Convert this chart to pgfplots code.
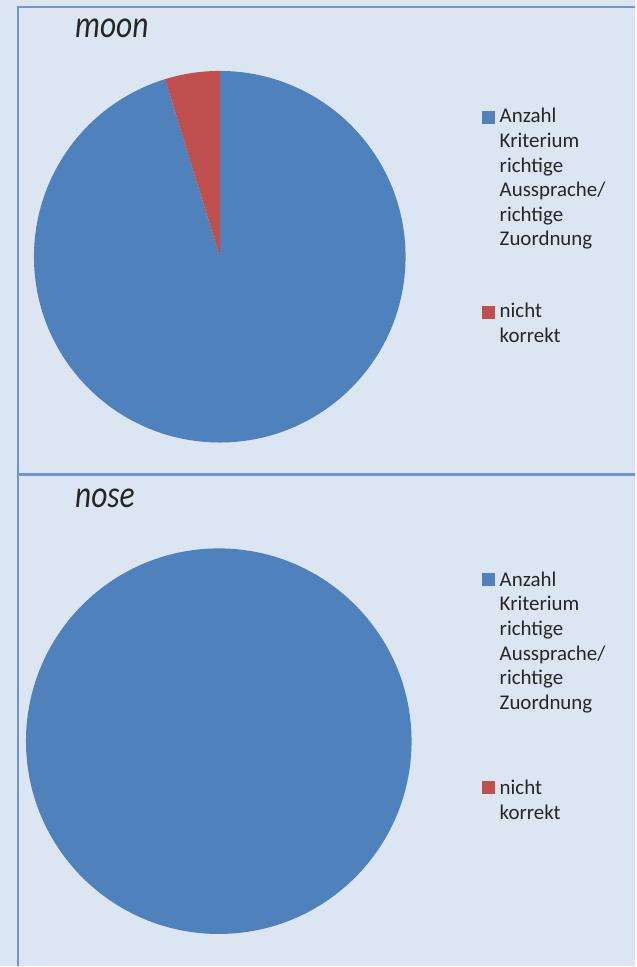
\documentclass[border=0pt]{standalone}
\usepackage{pgfplots}
\pgfplotsset{compat=1.18}
\usepackage{pgfplotstable}
\usepackage{fontspec}
\setmainfont{Carlito}
\definecolor{bg}{RGB}{220,230,242}
\definecolor{pieblue}{RGB}{79,129,189}
\definecolor{piered}{RGB}{192,80,77}
\definecolor{framecol}{RGB}{111,150,205}
\newcommand\legfont{\fontsize{15.7}{18}\selectfont}
\newcommand\titlefont{\fontsize{23.6}{28}\selectfont\itshape}
% pie: center x, center y (pixel units), radius (px), blue angle, red angle
\newcommand\drawpie[5]{%
  \fill[pieblue] (axis cs:#1,#2) -- ++(90:{#3*0.75pt}) arc[start angle=90, end angle={90-#4}, radius={#3*0.75pt}] -- cycle;
  \ifdim #5pt>0.01pt
  \fill[piered] (axis cs:#1,#2) -- ++({90-#4}:{#3*0.75pt}) arc[start angle={90-#4}, end angle=-270, radius={#3*0.75pt}] -- cycle;
  \fi
}
\newcommand\legline[2]{\node[anchor=base west, inner sep=0, font=\legfont, text=black!85] at (axis cs:500,#1) {#2};}
\begin{document}%
\pgfplotstableread{
cat value
korrekt 20
nichtkorrekt 1
}\moondata%
\pgfplotstableread{
cat value
korrekt 21
nichtkorrekt 0
}\nosedata%
\pgfplotstablegetelem{0}{value}\of\moondata\edef\moonA{\pgfplotsretval}%
\pgfplotstablegetelem{1}{value}\of\moondata\edef\moonB{\pgfplotsretval}%
\pgfplotstablegetelem{0}{value}\of\nosedata\edef\noseA{\pgfplotsretval}%
\pgfplotstablegetelem{1}{value}\of\nosedata\edef\noseB{\pgfplotsretval}%
\pgfmathsetmacro\moonBlue{360*\moonA/(\moonA+\moonB)}%
\pgfmathsetmacro\moonRed{360*\moonB/(\moonA+\moonB)}%
\pgfmathsetmacro\noseBlue{360*\noseA/(\noseA+\noseB)}%
\pgfmathsetmacro\noseRed{360*\noseB/(\noseA+\noseB)}%
\begin{tikzpicture}
\begin{axis}[width=477pt, height=725.25pt, scale only axis,
  xmin=0, xmax=636, ymin=0, ymax=967, y dir=reverse,
  hide axis, clip=false]
  \fill[bg] (axis cs:0,0) rectangle (axis cs:636,967);
  \draw[framecol, line width=1.6pt] (axis cs:18,967) -- (axis cs:18,7) -- (axis cs:636,7);
  \draw[framecol, line width=1.6pt] (axis cs:18,475) -- (axis cs:636,475);
  % chart 1: moon
  \drawpie{220}{257}{186}{\moonBlue}{\moonRed}
  \node[anchor=base west, inner sep=0, font=\titlefont, text=black!85] at (axis cs:75,38) {\scalebox{1}[1.22]{moon}};
  \fill[pieblue] (axis cs:483,111) rectangle (axis cs:496,124);
  \fill[piered] (axis cs:483,306) rectangle (axis cs:496,319);
  \legline{123}{Anzahl}
  \legline{147.6}{Kriterium}
  \legline{172.2}{richtige}
  \legline{196.8}{Aussprache/}
  \legline{221.4}{richtige}
  \legline{246}{Zuordnung}
  \legline{318}{nicht}
  \legline{343}{korrekt}
  % chart 2: nose
  \drawpie{219}{742}{193}{\noseBlue}{\noseRed}
  \node[anchor=base west, inner sep=0, font=\titlefont, text=black!85] at (axis cs:75,508) {\scalebox{1}[1.22]{nose}};
  \fill[pieblue] (axis cs:483,574) rectangle (axis cs:496,587);
  \fill[piered] (axis cs:483,782) rectangle (axis cs:496,795);
  \legline{587}{Anzahl}
  \legline{611.6}{Kriterium}
  \legline{636.2}{richtige}
  \legline{660.8}{Aussprache/}
  \legline{685.4}{richtige}
  \legline{710}{Zuordnung}
  \legline{795}{nicht}
  \legline{820}{korrekt}
\end{axis}
\end{tikzpicture}%
\end{document}
